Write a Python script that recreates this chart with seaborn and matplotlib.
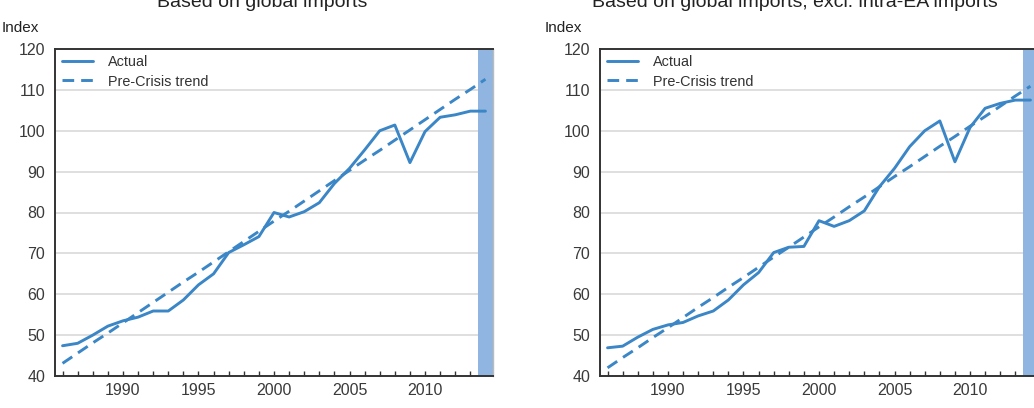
import matplotlib
matplotlib.use("Agg")
import matplotlib.pyplot as plt
import pandas as pd
import seaborn as sns

# Index values, one per year
years = list(range(1986, 2015))

actual_global = [47.4, 48.0, 50.0, 52.2, 53.5, 54.4, 55.9, 55.9, 58.6, 62.3,
                 65.0, 70.2, 72.1, 74.1, 80.0, 78.9, 80.2, 82.4, 87.1, 90.8,
                 95.3, 100.0, 101.4, 92.2, 99.8, 103.3, 103.9, 104.8, 104.8]
trend_global = [43.1, 45.6, 48.1, 50.5, 53.0, 55.5, 58.0, 60.5, 63.0, 65.4,
                67.9, 70.4, 72.9, 75.4, 77.9, 80.3, 82.8, 85.3, 87.8, 90.3,
                92.8, 95.2, 97.7, 100.2, 102.7, 105.2, 107.7, 110.1, 112.6]

actual_excl = [46.9, 47.3, 49.5, 51.4, 52.5, 53.1, 54.7, 55.9, 58.6, 62.3,
               65.3, 70.2, 71.5, 71.7, 78.0, 76.6, 78.0, 80.4, 86.3, 90.8,
               96.1, 100.0, 102.4, 92.4, 100.8, 105.5, 106.7, 107.5, 107.5]
trend_excl = [42.0, 44.5, 46.9, 49.4, 51.8, 54.3, 56.8, 59.2, 61.7, 64.1,
              66.6, 69.1, 71.5, 74.0, 76.5, 78.9, 81.4, 83.8, 86.3, 88.8,
              91.2, 93.7, 96.2, 98.6, 101.1, 103.5, 106.0, 108.5, 110.9]

titles = ["Based on global imports",
          "Based on global imports, excl. intra-EA imports"]
series_names = ["Actual", "Pre-Crisis trend"]
shade_year = 2014
xticks = [1990, 1995, 2000, 2005, 2010]
yticks = [40, 50, 60, 70, 80, 90, 100, 110, 120]

line_col = "#3a86c6"
bar_col = "#8fb5e0"

sns.set_theme(style="white")
plt.rcParams["font.family"] = ["Liberation Sans", "DejaVu Sans"]

fig = plt.figure(figsize=(10.34, 4.08), dpi=100)
W, H = 1034, 408
ax1 = fig.add_axes([55 / W, 32 / H, 438 / W, 327 / H])
ax2 = fig.add_axes([600 / W, 32 / H, 438 / W, 327 / H])

# axes, actual, trend, title centre x, "Index" x (pixels)
panels = [(ax1, actual_global, trend_global, titles[0], 262, 2),
          (ax2, actual_excl, trend_excl, titles[1], 795, 545)]

for ax, act, trend, title, title_x, index_x in panels:
    df = pd.DataFrame({"year": years * 2,
                       "value": act + trend,
                       "series": [series_names[0]] * len(years) + [series_names[1]] * len(years)})
    sns.lineplot(data=df, x="year", y="value", hue="series", style="series",
                 palette=[line_col, line_col],
                 dashes={series_names[0]: "", series_names[1]: (4, 2.4)},
                 linewidth=2.1, ax=ax, zorder=3)

    ax.axvspan(shade_year - 0.5, shade_year + 0.5, color=bar_col, lw=0, zorder=2)

    ax.set_xlim(1985.5, 2014.5)
    ax.set_ylim(40, 120)
    ax.set_yticks(yticks)
    ax.set_xticks(xticks)
    ax.set_xticks(years, minor=True)
    ax.set_xlabel("")
    ax.set_ylabel("")

    # light grid lines between the frame edges
    for y in yticks[1:-1]:
        ax.axhline(y, color="#d9d9d9", lw=1.2, zorder=1)

    ax.tick_params(axis="y", length=0, pad=7, labelsize=11.5, labelcolor="#3a3a3a")
    ax.tick_params(axis="x", which="both", direction="in", length=3.5, width=1,
                   color="#333333", bottom=True, pad=5, labelsize=11.5,
                   labelcolor="#3a3a3a")

    for side in ["left", "bottom", "top"]:
        ax.spines[side].set_color("#333333")
        ax.spines[side].set_linewidth(1.4)
    ax.spines["right"].set_color("#bbbbbb")
    ax.spines["right"].set_linewidth(1.0)

    leg = ax.legend(loc="upper left", frameon=False, fontsize=10.4,
                    handlelength=2.2, handletextpad=1.0, labelspacing=0.35,
                    borderaxespad=0.05)
    for t in leg.get_texts():
        t.set_color("#333333")

    fig.text(title_x / W, 1 - 7 / H, title,
             ha="center", va="baseline", fontsize=14, color="#222222")
    fig.text(index_x / W, 1 - 32 / H, "Index", ha="left", va="baseline",
             fontsize=11, color="#222222")

fig.savefig("out.png", dpi=100)
